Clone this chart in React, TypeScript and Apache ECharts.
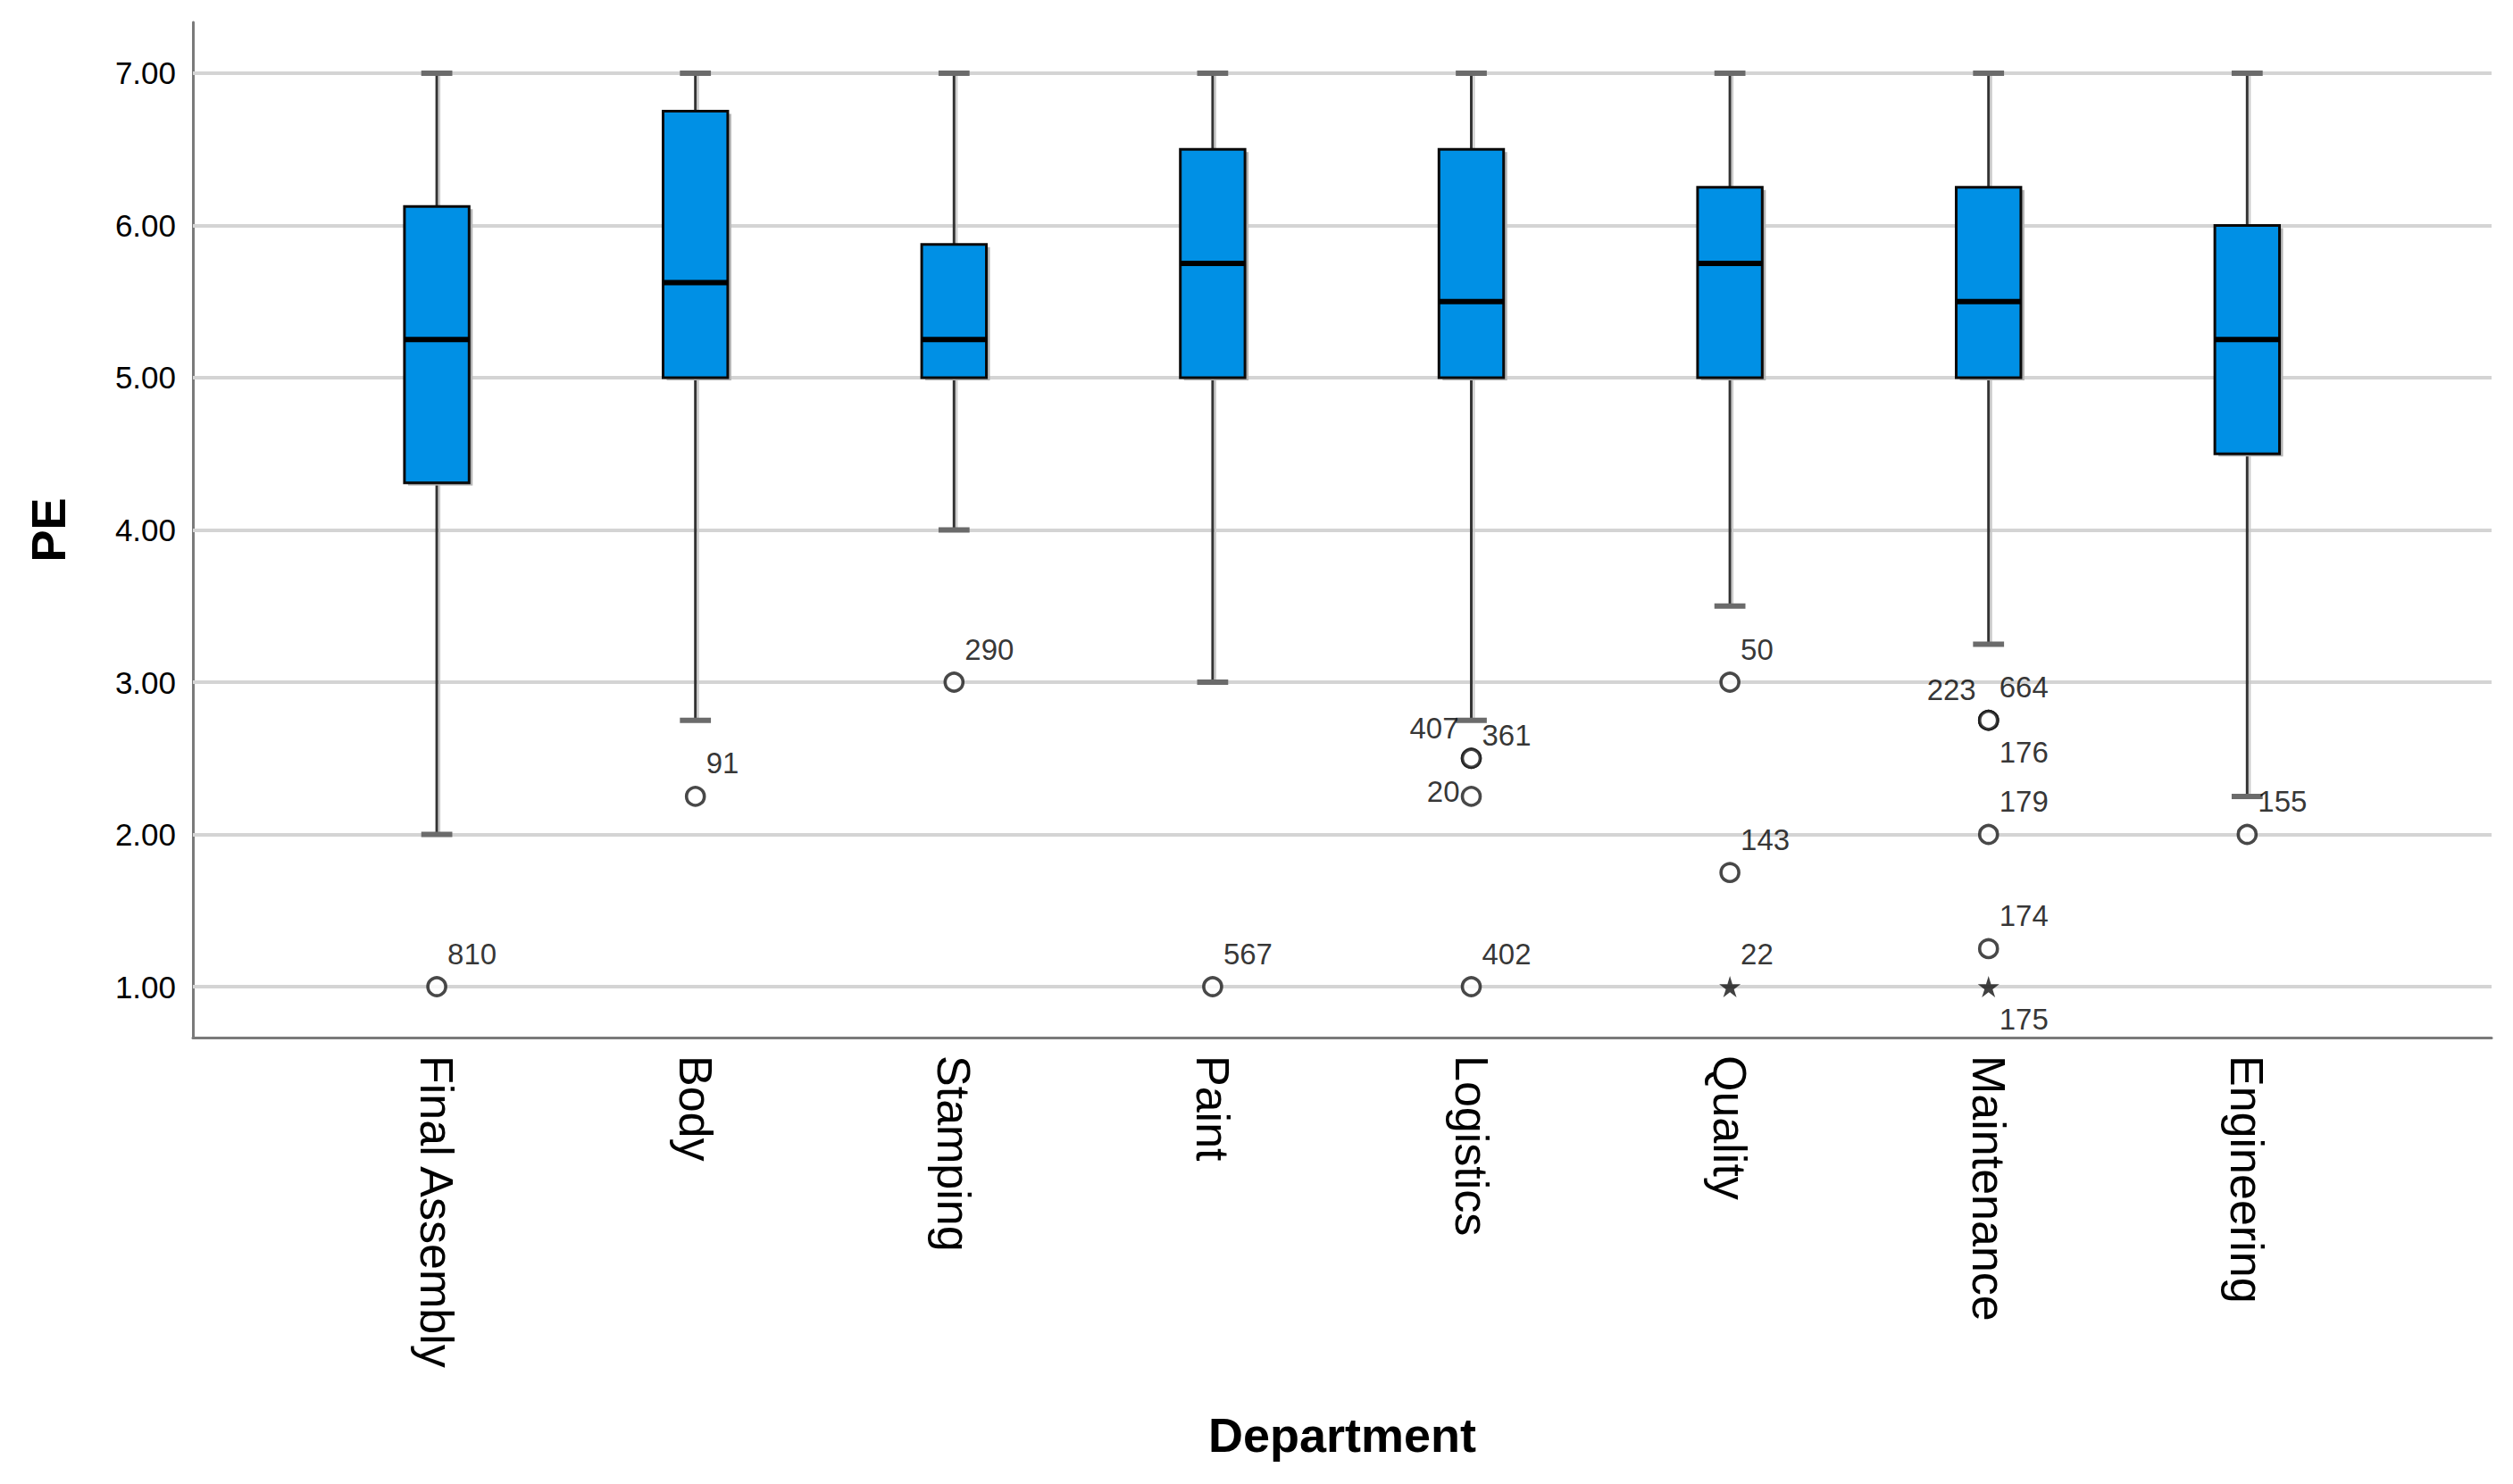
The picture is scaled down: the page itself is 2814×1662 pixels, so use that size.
import React, { useEffect, useRef } from 'react';
import * as echarts from 'echarts';

// ---------- data ----------
const departments = ['Final Assembly', 'Body', 'Stamping', 'Paint', 'Logistics', 'Quality', 'Maintenance', 'Engineering'];
const whiskerLow = [2.0, 2.75, 4.0, 3.0, 2.75, 3.5, 3.25, 2.25];
const quartile1 = [4.31, 5.0, 5.0, 5.0, 5.0, 5.0, 5.0, 4.5];
const medians = [5.25, 5.625, 5.25, 5.75, 5.5, 5.75, 5.5, 5.25];
const quartile3 = [6.125, 6.75, 5.875, 6.5, 6.5, 6.25, 6.25, 6.0];
const whiskerHigh = [7.0, 7.0, 7.0, 7.0, 7.0, 7.0, 7.0, 7.0];

const outlierDept = [0, 1, 2, 3, 4, 4, 4, 4, 5, 5, 5, 6, 6, 6, 6, 6, 6, 7];
const outlierValue = [1.0, 2.25, 3.0, 1.0, 2.5, 2.5, 2.25, 1.0, 3.0, 1.75, 1.0, 2.75, 2.75, 2.75, 2.0, 1.25, 1.0, 2.0];
const outlierCase = ['810', '91', '290', '567', '407', '361', '20', '402', '50', '143', '22', '223', '664', '176', '179', '174', '175', '155'];
const outlierKind = ['o', 'o', 'o', 'o', 'o', 'o', 'o', 'o', 'o', 'o', '*', 'o', 'o', 'o', 'o', 'o', '*', 'o'];
const outlierLabelSide = ['ur', 'ur', 'ur', 'ur', 'ul', 'r', 'l', 'ur', 'ur', 'ur', 'ur', 'ul', 'ur', 'lr', 'ur', 'ur', 'lr', 'ur'];

const yTickValues = [1, 2, 3, 4, 5, 6, 7];
const xTickValues = [0, 1, 2, 3, 4, 5, 6, 7];

const FONT = '"Liberation Sans", Arial, Helvetica, sans-serif';
const STAR_PATH = 'path://M0,-10 L2.2,-3 L9.5,-3.1 L3.6,1.2 L5.9,8.1 L0,3.8 L-5.9,8.1 L-3.6,1.2 L-9.5,-3.1 L-2.2,-3 Z';

const labelStyles: Record<string, any> = {
  ur: { align: 'left', offset: [12, -37] },
  ul: { align: 'right', offset: [-14, -34] },
  r: { align: 'left', offset: [12, -26] },
  l: { align: 'right', offset: [-13, -5] },
  lr: { align: 'left', offset: [12, 36] },
};

export default function App() {
  const ref = useRef<HTMLDivElement>(null);

  useEffect(() => {
    if (!ref.current) return;
    const chart = echarts.init(ref.current, undefined, { renderer: 'svg' });

    const boxData = departments.map((_, i) => [i, whiskerLow[i], quartile1[i], medians[i], quartile3[i], whiskerHigh[i]]);

    const outlierData = outlierDept.map((d, i) => {
      const star = outlierKind[i] === '*';
      const ls = labelStyles[outlierLabelSide[i]];
      return {
        value: [d, outlierValue[i]],
        symbol: star ? STAR_PATH : 'circle',
        symbolSize: star ? 24 : 20,
        itemStyle: star
          ? { color: '#111', borderWidth: 0 }
          : { color: '#ffffff', borderColor: '#1a1a1a', borderWidth: 3.6 },
        label: {
          show: true,
          position: 'inside',
          formatter: outlierCase[i],
          align: ls.align,
          verticalAlign: 'middle',
          offset: ls.offset,
          color: '#000',
          fontSize: 33,
          fontFamily: FONT,
        },
      };
    });

    const renderBox = (params: any, api: any) => {
      const x = api.value(0);
      const lo = api.coord([x, api.value(1)]);
      const q1 = api.coord([x, api.value(2)]);
      const med = api.coord([x, api.value(3)]);
      const q3 = api.coord([x, api.value(4)]);
      const hi = api.coord([x, api.value(5)]);
      const halfW = api.size([0.25, 0])[0] / 2;
      const capHalf = api.size([0.12, 0])[0] / 2;
      const cx = lo[0];
      return {
        type: 'group',
        children: [
          // whisker shadows
          { type: 'line', shape: { x1: cx + 3, y1: q3[1], x2: cx + 3, y2: hi[1] }, style: { stroke: '#c8c8c8', lineWidth: 2 } },
          { type: 'line', shape: { x1: cx + 3, y1: q1[1], x2: cx + 3, y2: lo[1] }, style: { stroke: '#c8c8c8', lineWidth: 2 } },
          // whiskers
          { type: 'line', shape: { x1: cx, y1: q3[1], x2: cx, y2: hi[1] }, style: { stroke: '#333', lineWidth: 3 } },
          { type: 'line', shape: { x1: cx, y1: q1[1], x2: cx, y2: lo[1] }, style: { stroke: '#333', lineWidth: 3 } },
          // caps
          { type: 'line', shape: { x1: cx - capHalf, y1: hi[1], x2: cx + capHalf, y2: hi[1] }, style: { stroke: '#6b6b6b', lineWidth: 6 } },
          { type: 'line', shape: { x1: cx - capHalf, y1: lo[1], x2: cx + capHalf, y2: lo[1] }, style: { stroke: '#6b6b6b', lineWidth: 6 } },
          // box shadow
          { type: 'rect', shape: { x: cx - halfW + 4, y: q3[1] + 3, width: halfW * 2, height: q1[1] - q3[1] }, style: { fill: '#b4b4b4' } },
          // box
          { type: 'rect', shape: { x: cx - halfW, y: q3[1], width: halfW * 2, height: q1[1] - q3[1] }, style: { fill: '#0090e5', stroke: '#0a0a0a', lineWidth: 3 } },
          // median
          { type: 'line', shape: { x1: cx - halfW, y1: med[1], x2: cx + halfW, y2: med[1] }, style: { stroke: '#000', lineWidth: 6 } },
        ],
      };
    };

    const option: any = {
      animation: false,
      backgroundColor: '#ffffff',
      grid: { left: 216, right: 24, top: 25, bottom: 500, containLabel: false },
      xAxis: {
        type: 'value',
        min: -0.943,
        max: 7.945,
        name: 'Department',
        nameLocation: 'middle',
        nameGap: 418,
        nameTextStyle: { fontSize: 54, fontWeight: 'bold', color: '#000', fontFamily: FONT },
        axisLine: { show: true, onZero: false, lineStyle: { color: '#7a7a7a', width: 3 } },
        axisTick: { show: false },
        splitLine: { show: false },
        axisLabel: {
          customValues: xTickValues,
          rotate: -90,
          margin: 20,
          fontSize: 52,
          color: '#000',
          fontFamily: FONT,
          formatter: (v: number) => departments[Math.round(v)] ?? '',
        },
      },
      yAxis: {
        type: 'value',
        min: 0.666,
        max: 7.334,
        name: 'PE',
        nameLocation: 'middle',
        nameGap: 135,
        nameRotate: 90,
        nameTextStyle: { fontSize: 54, fontWeight: 'bold', color: '#000', fontFamily: FONT },
        axisLine: { show: true, onZero: false, lineStyle: { color: '#7a7a7a', width: 3 } },
        axisTick: { show: false },
        splitLine: { show: false },
        axisLabel: {
          customValues: yTickValues,
          margin: 19,
          fontSize: 35,
          color: '#000',
          fontFamily: FONT,
          formatter: (v: number) => v.toFixed(2),
        },
      },
      series: [
        {
          type: 'line',
          data: [],
          z: 1,
          silent: true,
          markLine: {
            silent: true,
            symbol: ['none', 'none'],
            label: { show: false },
            lineStyle: { color: '#d4d4d4', width: 4, type: 'solid' },
            data: yTickValues.map((v) => ({ yAxis: v })),
            z: 1,
          },
        },
        {
          type: 'custom',
          z: 5,
          renderItem: renderBox,
          encode: { x: 0, y: [1, 2, 3, 4, 5] },
          data: boxData,
        },
        {
          type: 'scatter',
          z: 6,
          data: outlierData,
        },
      ],
    };

    chart.setOption(option);
    return () => chart.dispose();
  }, []);

  return (
    <div
      ref={ref}
      style={{ position: 'fixed', left: 0, top: 0, width: '2814px', height: '1662px', background: '#fff' }}
    />
  );
}
